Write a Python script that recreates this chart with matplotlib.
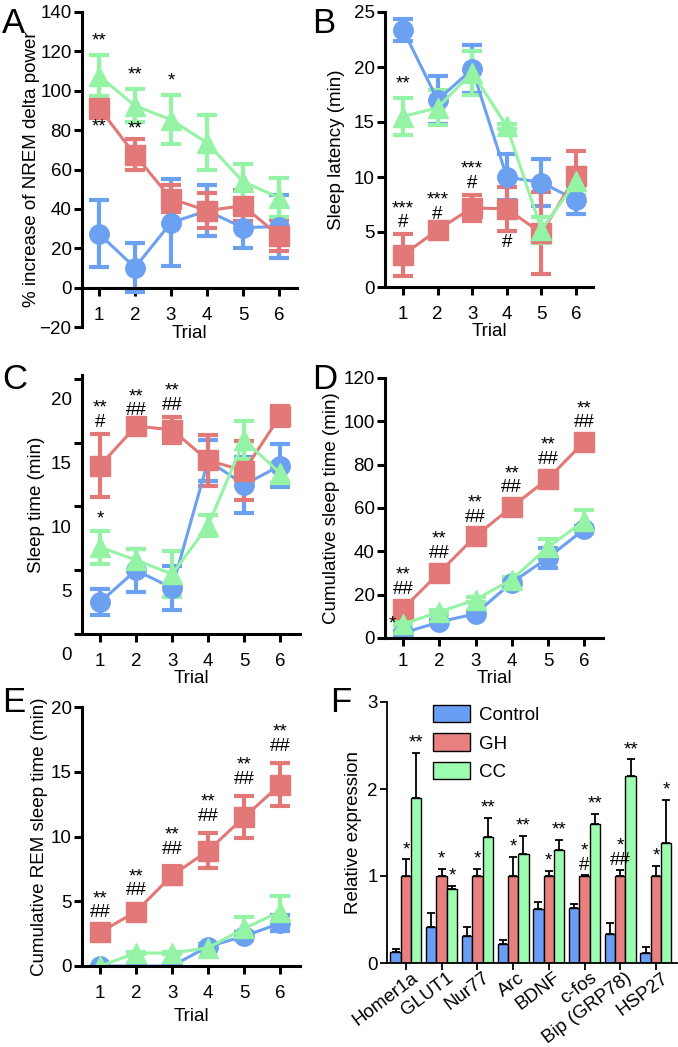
import matplotlib.pyplot as plt
from matplotlib.transforms import ScaledTranslation

plt.rcParams['font.family'] = ['Liberation Sans', 'DejaVu Sans']
plt.rcParams['font.size'] = 13.5

W, H = 678, 1047
trials = [1, 2, 3, 4, 5, 6]
c_blue, c_red, c_green = '#6ca0f0', '#e27878', '#94f3a4'

# A: % increase of NREM delta power
a_ctrl = [27.4, 10.2, 33.0, 39.0, 30.5, 31.0]
a_ctrl_err = [17, 12.6, 22, 13, 10.5, 16]
a_gh = [91.4, 67.5, 45.2, 39.1, 41.6, 26.4]
a_gh_err = [5, 8, 7, 9, 8, 8]
a_cc = [107.6, 92.4, 85.3, 73.6, 53.8, 45.7]
a_cc_err = [10.5, 8.5, 12.5, 14, 9, 10]

# B: sleep latency (min)
b_ctrl = [23.4, 17.0, 19.8, 10.0, 9.5, 7.9]
b_ctrl_err = [1.0, 2.2, 2.2, 2.1, 2.1, 1.3]
b_gh = [2.9, 5.2, 7.2, 7.1, 4.9, 10.1]
b_gh_err = [1.9, 0.4, 1.2, 2.0, 3.7, 2.3]
b_cc = [15.5, 16.3, 19.5, 14.6, 5.2, 9.6]
b_cc_err = [1.7, 1.6, 2.0, 0.2, 1.2, 1.2]

# C: sleep time (min)
c_ctrl = [2.5, 5.0, 3.6, 13.6, 11.7, 13.2]
c_ctrl_err = [1.0, 1.7, 1.7, 1.6, 2.2, 1.7]
c_gh = [13.2, 16.3, 16.0, 13.6, 12.8, 17.1]
c_gh_err = [2.5, 0.3, 1.0, 2.0, 2.3, 0.8]
c_cc = [6.8, 5.8, 4.7, 8.5, 15.2, 12.6]
c_cc_err = [1.3, 0.9, 1.8, 0.8, 1.5, 0.8]

# D: cumulative sleep time (min)
d_ctrl = [2.3, 7.4, 11.2, 25.6, 37.0, 50.2]
d_ctrl_err = [0.8, 1.0, 1.2, 1.5, 4.5, 1.5]
d_gh = [13.5, 30.2, 47.0, 60.5, 73.5, 90.5]
d_gh_err = [1.0, 1.0, 1.0, 1.0, 1.0, 1.0]
d_cc = [6.5, 12.0, 17.7, 27.0, 41.9, 54.0]
d_cc_err = [1.0, 1.0, 1.0, 1.2, 4.0, 5.0]

# E: cumulative REM sleep time (min)
e_ctrl = [0, 0, 0, 1.5, 2.3, 3.3]
e_ctrl_err = [0, 0, 0, 0.2, 0.3, 0.6]
e_gh = [2.6, 4.2, 7.0, 8.9, 11.5, 14.0]
e_gh_err = [0.2, 0.3, 0.7, 1.35, 1.6, 1.65]
e_cc = [0, 1.0, 1.0, 1.4, 2.9, 4.2]
e_cc_err = [0, 0.1, 0.1, 0.2, 0.9, 1.2]

# F: relative expression
genes = ['Homer1a', 'GLUT1', 'Nur77', 'Arc', 'BDNF', 'c-fos', 'Bip (GRP78)', 'HSP27']
f_ctrl = [0.13, 0.41, 0.31, 0.22, 0.62, 0.63, 0.33, 0.12]
f_ctrl_err = [0.03, 0.16, 0.10, 0.04, 0.08, 0.05, 0.13, 0.06]
f_gh = [1.0, 1.0, 1.0, 1.0, 1.0, 1.0, 1.0, 1.0]
f_gh_err = [0.19, 0.08, 0.08, 0.22, 0.06, 0.01, 0.07, 0.12]
f_cc = [1.90, 0.85, 1.45, 1.25, 1.30, 1.60, 2.15, 1.38]
f_cc_err = [0.51, 0.04, 0.22, 0.21, 0.11, 0.11, 0.19, 0.49]
f_gh_sig = ['*', '*', '*', '*', '*', '*\n#', '*\n##', '*']
f_cc_sig = ['**', '*', '**', '**', '**', '**', '**', '*']

fig = plt.figure(figsize=(W / 100, H / 100), dpi=100)


def px_axes(l, t, r, b):
    return fig.add_axes([l / W, 1 - b / H, (r - l) / W, (b - t) / H])


def style(ax, lw=2.2, tl=6, xpad=8):
    for s in ['top', 'right']:
        ax.spines[s].set_visible(False)
    for s in ['left', 'bottom']:
        ax.spines[s].set_linewidth(lw)
    ax.tick_params(direction='out', length=tl, width=lw, labelsize=13.5)
    ax.tick_params(axis='y', pad=1.5)
    ax.tick_params(axis='x', pad=xpad)


def series(ax, y, err, color, marker):
    ax.errorbar(trials, y, yerr=err, color=color, marker=marker, markersize=14,
                lw=2.2, elinewidth=3, capsize=7.5, capthick=3, mec=color, mfc=color)


def line_panel(ax, ctrl, ctrl_err, gh, gh_err, cc, cc_err):
    series(ax, ctrl, ctrl_err, c_blue, 'o')
    series(ax, gh, gh_err, c_red, 's')
    series(ax, cc, cc_err, c_green, '^')
    ax.set_xticks(trials)
    ax.set_xlabel('Trial', fontsize=13.5, labelpad=0)
    style(ax)


def note(ax, i, y, text, dy=4):
    ax.annotate(text, (trials[i], y), xytext=(0, dy), textcoords='offset points',
                ha='center', va='bottom' if dy >= 0 else 'top', fontsize=13.5,
                linespacing=0.8)


# Panel A
axA = px_axes(82, 12, 297, 327)
line_panel(axA, a_ctrl, a_ctrl_err, a_gh, a_gh_err, a_cc, a_cc_err)
axA.set_xlim(0.53, 6.5)
axA.set_ylim(-20, 140)
axA.set_yticks(range(-20, 141, 20))
axA.spines['bottom'].set_position(('data', 0))
axA.set_ylabel('% increase of NREM delta power', labelpad=0)
axA.xaxis.set_label_coords(0.5, 0.005)
for i in range(3):
    note(axA, i, a_cc[i] + a_cc_err[i], ['**', '**', '*'][i])
note(axA, 0, a_gh[0] - a_gh_err[0], '**', dy=-1)
note(axA, 1, a_gh[1] + a_gh_err[1], '**', dy=1)

# Panel B
axB = px_axes(385, 12, 593, 287)
line_panel(axB, b_ctrl, b_ctrl_err, b_gh, b_gh_err, b_cc, b_cc_err)
axB.set_xlim(0.48, 6.49)
axB.set_ylim(0, 25)
axB.set_yticks(range(0, 26, 5))
axB.set_ylabel('Sleep latency (min)', labelpad=6)
note(axB, 0, b_cc[0] + b_cc_err[0], '**')
for i in range(3):
    note(axB, i, b_gh[i] + b_gh_err[i], '***\n#', dy=2)
note(axB, 3, b_gh[3] - b_gh_err[3], '#', dy=-2)

# Panel C (tick labels drawn shifted down as in the original)
axC = px_axes(82, 375, 300, 634)
line_panel(axC, c_ctrl, c_ctrl_err, c_gh, c_gh_err, c_cc, c_cc_err)
axC.set_xlim(0.5, 6.55)
axC.set_ylim(0, 20.3)
axC.set_yticks(range(0, 21, 5))
shift = ScaledTranslation(0, -0.2, fig.dpi_scale_trans)
for t in axC.yaxis.get_major_ticks():
    t.label1.set_transform(t.label1.get_transform() + shift)
axC.set_ylabel('Sleep time (min)', labelpad=4)
note(axC, 0, c_gh[0] + c_gh_err[0], '**\n#', dy=2)
note(axC, 1, c_gh[1] + c_gh_err[1], '**\n##', dy=2)
note(axC, 2, c_gh[2] + c_gh_err[2], '**\n##', dy=2)
note(axC, 0, c_cc[0] + c_cc_err[0], '*', dy=2)

# Panel D
axD = px_axes(385, 378, 603, 638)
line_panel(axD, d_ctrl, d_ctrl_err, d_gh, d_gh_err, d_cc, d_cc_err)
axD.set_xlim(0.5, 6.52)
axD.set_ylim(0, 120)
axD.set_yticks(range(0, 121, 20))
axD.tick_params(axis='x', pad=5)
axD.set_ylabel('Cumulative sleep time (min)', labelpad=2)
for i in range(6):
    note(axD, i, d_gh[i] + d_gh_err[i], '**\n##', dy=6)
axD.annotate('*', (trials[0], d_cc[0]), xytext=(-8, 0), textcoords='offset points',
             ha='center', va='center', fontsize=13.5, zorder=10)

# Panel E
axE = px_axes(82, 707, 300, 966)
line_panel(axE, e_ctrl, e_ctrl_err, e_gh, e_gh_err, e_cc, e_cc_err)
axE.set_xlim(0.5, 6.55)
axE.set_ylim(0, 20)
axE.set_yticks(range(0, 21, 5))
axE.set_ylabel('Cumulative REM sleep time (min)', labelpad=2)
axE.xaxis.labelpad = 4
for i in range(6):
    note(axE, i, e_gh[i] + e_gh_err[i], '**\n##', dy=6)

# Panel F
axF = px_axes(387, 702, 677, 963)
x = list(range(len(genes)))
bw = 0.29
for off, vals, errs, col, lab in [(-bw, f_ctrl, f_ctrl_err, '#6a9ef5', 'Control'),
                                   (0, f_gh, f_gh_err, '#e88080', 'GH'),
                                   (bw, f_cc, f_cc_err, '#9cfcb0', 'CC')]:
    xs = [v + off for v in x]
    axF.bar(xs, vals, width=bw, color=col, edgecolor='black', linewidth=1, label=lab)
    axF.errorbar(xs, vals, yerr=[[0] * len(vals), errs], fmt='none', ecolor='black',
                 elinewidth=1.3, capsize=3, capthick=1.3)
for i in x:
    axF.annotate(f_gh_sig[i], (i, f_gh[i] + f_gh_err[i]), xytext=(0, 1),
                 textcoords='offset points', ha='center', va='bottom', fontsize=13.5,
                 linespacing=0.8)
    axF.annotate(f_cc_sig[i], (i + bw, f_cc[i] + f_cc_err[i]), xytext=(0, 1),
                 textcoords='offset points', ha='center', va='bottom', fontsize=13.5)
axF.set_xlim(-0.53, 7.59)
axF.set_ylim(0, 3)
axF.set_yticks([0, 1, 2, 3])
axF.set_xticks(x)
axF.set_xticklabels(genes, rotation=37, ha='right', rotation_mode='anchor')
style(axF, lw=1.3, tl=5, xpad=1)
xshift = ScaledTranslation(0.05, 0.02, fig.dpi_scale_trans)
for t in axF.xaxis.get_major_ticks():
    t.label1.set_transform(t.label1.get_transform() + xshift)
axF.set_ylabel('Relative expression', labelpad=4)
axF.legend(loc='upper left', bbox_to_anchor=(433 / W, 1 - 705 / H),
           bbox_transform=fig.transFigure, frameon=False, fontsize=13.5,
           handlelength=2.0, handleheight=1.05, labelspacing=0.5, handletextpad=0.45,
           borderaxespad=0, borderpad=0)

for lab, (px, py) in zip('ABCDEF', [(2, 7), (312, 7), (2, 363), (312, 363), (2, 686), (330, 686)]):
    fig.text(px / W, 1 - py / H, lab, fontsize=25, ha='left', va='top')

fig.savefig('out.png', dpi=100)
